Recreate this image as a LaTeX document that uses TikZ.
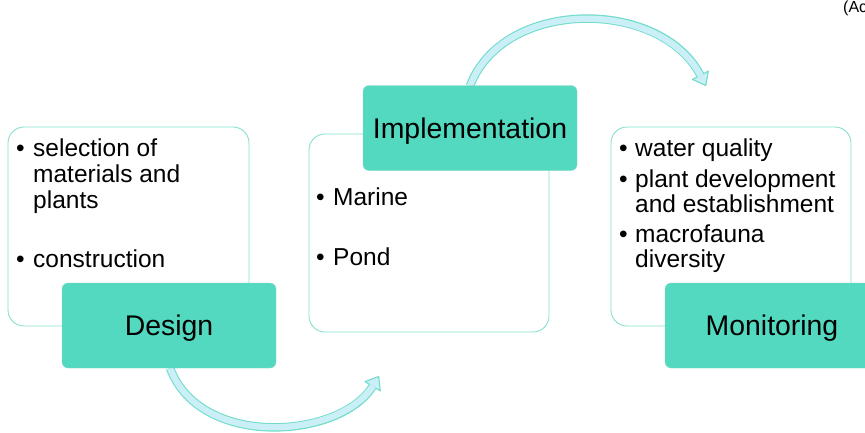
\documentclass[tikz,border=0pt]{standalone}
\usepackage{fontspec}
\setmainfont{Liberation Sans}
\usetikzlibrary{arrows.meta}
\definecolor{boxteal}{HTML}{52D9BF}
\definecolor{frameteal}{HTML}{86E0D0}
\definecolor{arrowedge}{HTML}{72DCCB}
\definecolor{arrowfill}{HTML}{CBEFF6}
\begin{document}
\begin{tikzpicture}[x=1pt,y=-1pt,
  listbox/.style={draw=frameteal, line width=0.9pt, fill=white, rounded corners=16pt, inner sep=0},
  stagebox/.style={fill=boxteal, draw=boxteal!85!black!60, line width=0.3pt, rounded corners=6pt,
    minimum width=214pt, minimum height=85pt, inner sep=0, text height=20.3pt, text depth=0pt,
    font=\fontsize{28.4}{30}\selectfont},
  itemtext/.style={anchor=base west, inner sep=0, font=\fontsize{24.5}{25.5}\selectfont},
  bulletmark/.style={anchor=base west, inner sep=0, font=\fontsize{24.5}{25.5}\selectfont},
  bandouter/.style={draw=arrowedge, line width=8.5pt,
    -{Triangle[length=13pt,width=20pt,fill=arrowfill,line width=1.1pt,round]}},
  bandinner/.style={draw=arrowfill, line width=6.3pt, shorten >=11.5pt},
]
\useasboundingbox (0,0) rectangle (865,432);
\clip (0,0) rectangle (865,432);

% connectors between stages (drawn first, they sit behind the boxes)
\coordinate (d2i) at (379,376);
\coordinate (i2m) at (706,86);
\coordinate (dstart) at (170,368);
\coordinate (istart) at (470,86);
\draw[bandouter] (dstart) .. controls (200,449) and (340,439) .. (d2i);
\draw[bandinner] (dstart) .. controls (200,449) and (340,439) .. (d2i);
\draw[bandouter] (istart) .. controls (503,-2) and (660,-2) .. (i2m);
\draw[bandinner] (istart) .. controls (503,-2) and (660,-2) .. (i2m);

% list panels
\node[listbox, minimum width=241pt, minimum height=199pt] (dlist) at (128.5,226.5) {};
\node[listbox, minimum width=240pt, minimum height=198pt] (ilist) at (429,233) {};
\node[listbox, minimum width=240pt, minimum height=199pt] (mlist) at (731,226.5) {};

% stage labels
\node[stagebox] (dlabel) at (169,325.5) {Design};
\node[stagebox] (ilabel) at (470,128) {Implementation};
\node[stagebox] (mlabel) at (772,325.5) {Monitoring};

% design items
\node[bulletmark] (db1) at (16,156) {•};
\node[itemtext] (dt1) at (33,156) {selection of};
\node[itemtext] (dt2) at (33,182) {materials and};
\node[itemtext] (dt3) at (33,208) {plants};
\node[bulletmark] (db2) at (16,267) {•};
\node[itemtext] (dt4) at (33,267) {construction};

% implementation items
\node[bulletmark] (ib1) at (316,205) {•};
\node[itemtext] (it1) at (333,205) {Marine};
\node[bulletmark] (ib2) at (316,265) {•};
\node[itemtext] (it2) at (333,265) {Pond};

% monitoring items
\node[bulletmark] (mb1) at (619,156) {•};
\node[itemtext] (mt1) at (635,156) {water quality};
\node[bulletmark] (mb2) at (619,187) {•};
\node[itemtext] (mt2) at (635,187) {plant development};
\node[itemtext] (mt3) at (635,212) {and establishment};
\node[bulletmark] (mb3) at (619,242) {•};
\node[itemtext] (mt4) at (635,242) {macrofauna};
\node[itemtext] (mt5) at (635,267) {diversity};

% source note at the top edge
\node[anchor=base west, inner sep=0, font=\fontsize{16}{18}\selectfont] (note) at (843,12) {(Ac};
\end{tikzpicture}
\end{document}
